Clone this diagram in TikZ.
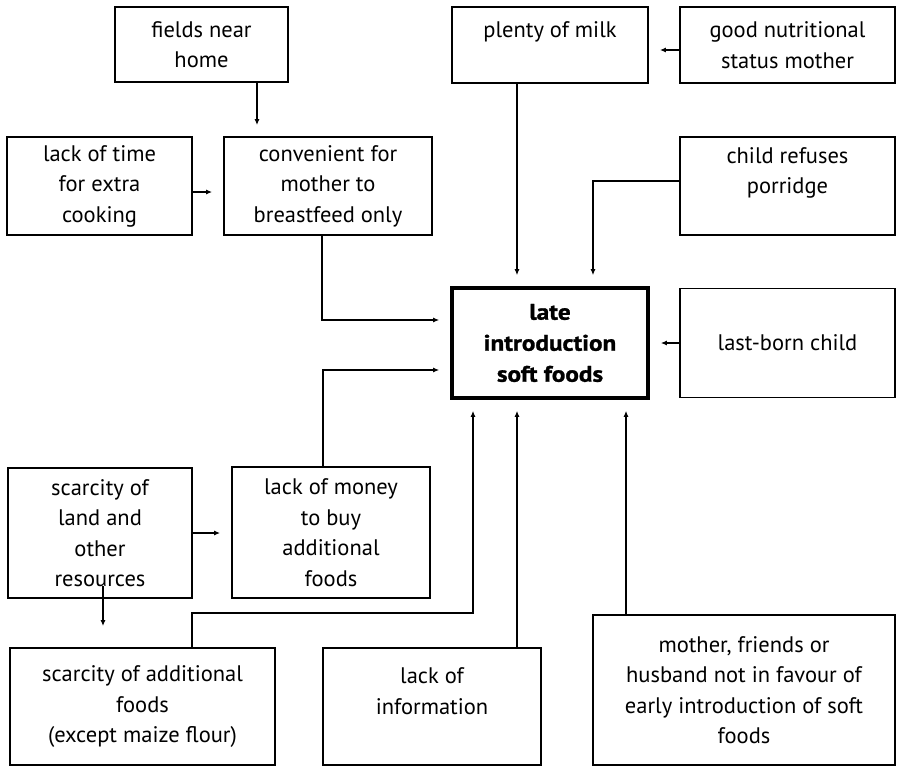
\documentclass[tikz,border=0pt]{standalone}
\usepackage{fontspec}
\setmainfont{PT Sans}
\newfontfamily\cenfont[FakeStretch=1.12,FakeBold=1.2]{PT Sans}
\usetikzlibrary{arrows.meta}
\tikzset{
  box/.style={draw, line width=1.8pt, align=center, inner sep=0pt,
    font=\fontsize{22.5}{30.5}\selectfont},
  mainbox/.style={box, line width=3.6pt, font=\cenfont\fontsize{22.5}{31}\selectfont\bfseries},
  arr/.style={line width=1.8pt, -{Latex[length=6pt,width=5pt]}, shorten >=11pt}
}
\begin{document}
\begin{tikzpicture}[x=1pt,y=-1pt]
\useasboundingbox (0,0) rectangle (897,766);
\node[box, minimum width=173pt, minimum height=75pt] (fields) at (201.5,44.5) {fields near\\home};
\node[box, minimum width=185pt, minimum height=98pt] (time) at (99.5,186) {lack of time\\for extra\\cooking};
\node[box, minimum width=208pt, minimum height=98pt] (conv) at (328,186) {convenient for\\mother to\\breastfeed only};
\node[box, minimum width=196pt, minimum height=76pt] (milk) at (550,45) {plenty of milk\\\mbox{}};
\node[box, minimum width=215pt, minimum height=76pt] (good) at (787.5,45) {good nutritional\\status mother};
\node[box, minimum width=215pt, minimum height=98pt] (child) at (787.5,186) {child refuses\\porridge\\\mbox{}};
\node[mainbox, minimum width=196pt, minimum height=110pt] (cen) at (550,343) {late\\introduction\\soft foods};
\node[box, minimum width=215pt, minimum height=109pt] (last) at (787.5,343) {last-born child};
\node[box, minimum width=184pt, minimum height=130pt] (land) at (100,533) {scarcity of\\land and\\other\\resources};
\node[box, minimum width=198pt, minimum height=131pt] (money) at (331,532.5) {lack of money\\to buy\\additional\\foods};
\node[box, minimum width=265pt, minimum height=117pt] (add) at (142.5,706.5) {scarcity of additional\\foods\\(except maize flour)};
\node[box, minimum width=218pt, minimum height=117pt] (info) at (432,706.5) {lack of\\information\\\mbox{}};
\node[box, minimum width=302pt, minimum height=150pt] (mother) at (744,690) {mother, friends or\\husband not in favour of\\early introduction of soft\\foods};

\draw[arr] ([xshift=55.5pt]fields.south) -- ([xshift=-71pt]conv.north);
\draw[arr] ([yshift=-6pt]time.east) -- ([yshift=-6pt]conv.west);
\draw[arr] ([yshift=-5pt]good.west) -- ([yshift=-5pt]milk.east);
\draw[arr] ([xshift=-33pt]milk.south) -- ([xshift=-33pt]cen.north);
\draw[arr] ([yshift=5pt]child.west) -| ([xshift=43pt]cen.north);
\draw[arr] (last.west) -- (cen.east);
\draw[arr] ([xshift=-6pt]conv.south) |- ([yshift=23pt]cen.west);
\draw[arr] ([xshift=-8pt]money.north) |- ([yshift=-27pt]cen.west);
\draw[arr] (land.east) -- (land.east -| money.west);
\draw[arr, shorten >=21pt] ([xshift=3pt,yshift=13pt]land.south) -- ([xshift=-39.5pt]add.north);
\draw[arr] ([xshift=49.5pt]add.north) -- ++(0,-34) -| ([xshift=-77pt]cen.south);
\draw[arr] ([xshift=85pt]info.north) -- ([xshift=-33pt]cen.south);
\draw[arr] ([xshift=-118pt]mother.north) -- ([xshift=76pt]cen.south);
\end{tikzpicture}
\end{document}
